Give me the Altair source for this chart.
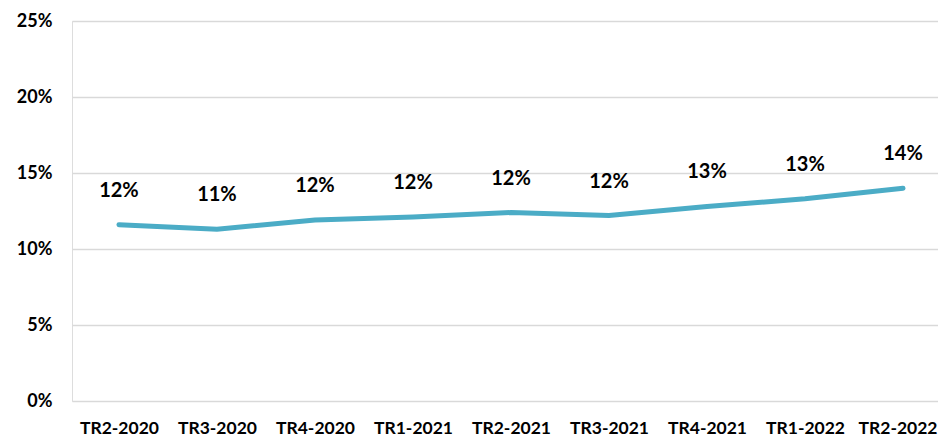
import altair as alt
import pandas as pd

quarters = ["TR2-2020", "TR3-2020", "TR4-2020", "TR1-2021", "TR2-2021",
            "TR3-2021", "TR4-2021", "TR1-2022", "TR2-2022"]
values = [0.116, 0.113, 0.119, 0.121, 0.124, 0.122, 0.128, 0.133, 0.140]
labels = ["12%", "11%", "12%", "12%", "12%", "12%", "13%", "13%", "14%"]
y_ticks = [0, 0.05, 0.10, 0.15, 0.20, 0.25]

df = pd.DataFrame({"q": quarters, "v": values, "lab": labels})

FONT = "Lato"

x_enc = alt.X("q:N", sort=quarters, title=None,
              scale=alt.Scale(type="point", padding=0.418, align=0.573),
              axis=alt.Axis(labelAngle=0, labelFont=FONT, labelFontSize=17.5,
                            labelFontWeight="bold", labelColor="#000000",
                            domain=False, ticks=False, labelPadding=18,
                            labelFlush=40, labelFlushOffset=34,
                            grid=False))
y_enc = alt.Y("v:Q", title=None,
              scale=alt.Scale(domain=[0, 0.25], nice=False),
              axis=alt.Axis(values=y_ticks, format=".0%", labelFont=FONT,
                            labelFontSize=18, labelFontWeight="bold",
                            labelColor="#000000", domain=False, ticks=False,
                            labelPadding=20, gridColor="#D9D9D9",
                            gridWidth=1.5))

base = alt.Chart(df)
line = base.mark_line(color="#4BACC6", strokeWidth=5, strokeCap="round").encode(x=x_enc, y=y_enc)
text = base.mark_text(dy=-34, font=FONT, fontSize=20, fontWeight="bold",
                      color="#000000").encode(x=x_enc, y=y_enc, text="lab:N")

chart = (line + text).properties(
    width=866, height=380,
    autosize=alt.AutoSizeParams(type="none"),
    padding={"left": 64, "top": 13, "right": 0, "bottom": 38},
).configure_view(stroke=None).configure(background="#ffffff")

chart.save("out.html", embed_options={"renderer": "svg", "actions": False})
